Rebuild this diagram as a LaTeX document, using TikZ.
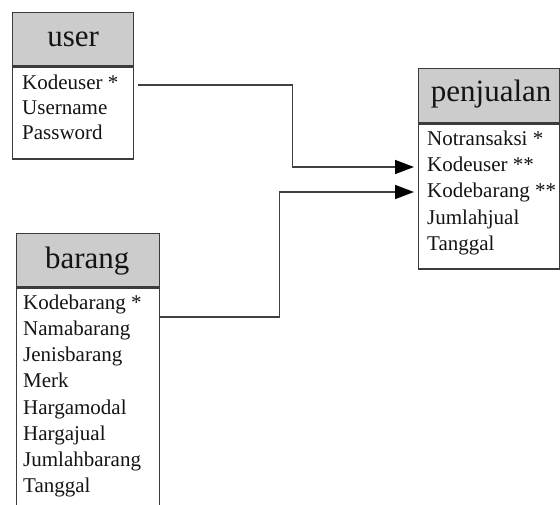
\documentclass[tikz,border=0pt]{standalone}
\usepackage{fontspec}
\setmainfont{Liberation Serif}
\usetikzlibrary{arrows.meta,calc}
\definecolor{hdrfill}{RGB}{204,204,204}
\definecolor{edgecol}{RGB}{60,60,60}
\definecolor{inkcol}{RGB}{20,20,20}
\tikzset{
  hdr/.style={draw=edgecol, line width=1.4pt, fill=hdrfill, anchor=north west,
    inner sep=0pt, font=\fontsize{31}{31}\selectfont, text=inkcol},
  hdrtext/.style={inner sep=0pt, font=\fontsize{31}{31}\selectfont, text=inkcol,
    text height=0.45em, text depth=0pt},
  bodybox/.style={draw=edgecol, line width=1.4pt, fill=white, anchor=north west, inner sep=0pt},
  attr/.style={anchor=west, inner sep=0pt, font=\fontsize{21}{26}\selectfont, text=inkcol,
    text height=14pt, text depth=5pt},
  conn/.style={draw=black!75, line width=1.5pt},
  tip/.style={-{Triangle[length=19pt,width=14pt,color=black]}}
}
\begin{document}
\begin{tikzpicture}[x=1pt,y=-1pt]
\useasboundingbox (0,0) rectangle (560,504);
\clip (0,0) rectangle (560,504);

% table: user
\node[hdr, minimum width=121pt, minimum height=53pt] (userH) at (12,12) {};
\node[hdrtext] at ($(userH.center)+(0,5)$) {user};
\node[bodybox, minimum width=121pt, minimum height=92pt] (userB) at (userH.south west) {};
\node[attr] (uKode) at (22,85) {Kodeuser *};
\node[attr] (uName) at (22,110) {Username};
\node[attr] (uPass) at (22,135) {Password};

% table: penjualan
\node[hdr, minimum width=141pt, minimum height=54pt] (penH) at (418,68) {};
\node[hdrtext] at ($(penH.center)+(2,4)$) {penjualan};
\node[bodybox, minimum width=141pt, minimum height=145pt] (penB) at (penH.south west) {};
\node[attr] (pNo)   at (427,141) {Notransaksi *};
\node[attr] (pUser) at (427,167) {Kodeuser **};
\node[attr] (pBar)  at (427,193) {Kodebarang **};
\node[attr] (pJml)  at (427,219.5) {Jumlahjual};
\node[attr] (pTgl)  at (427,246) {Tanggal};

% table: barang
\node[hdr, minimum width=143pt, minimum height=53pt] (barH) at (16,233) {};
\node[hdrtext] at ($(barH.center)+(-1,6)$) {barang};
\node[bodybox, minimum width=143pt, minimum height=240pt] (barB) at (barH.south west) {};
\node[attr] (bKode) at (23,305) {Kodebarang *};
\node[attr] (bNama) at (23,331) {Namabarang};
\node[attr] (bJenis) at (23,357) {Jenisbarang};
\node[attr] (bMerk) at (23,383) {Merk};
\node[attr] (bModal) at (23,409.5) {Hargamodal};
\node[attr] (bJual) at (23,436) {Hargajual};
\node[attr] (bJml) at (23,462) {Jumlahbarang};
\node[attr] (bTgl) at (23,488) {Tanggal};

% relations: primary keys into penjualan
\draw[conn, tip] (uKode -| userB.east) ++(4,0) -- ++(154,0)
  |- ($(pUser -| penB.west)+(-4,0)$);
\draw[conn, tip] ($(bKode -| barB.east)+(0,12)$) -- ++(119,0)
  |- ($(pBar -| penB.west)+(-4,-1)$);
\end{tikzpicture}
\end{document}
